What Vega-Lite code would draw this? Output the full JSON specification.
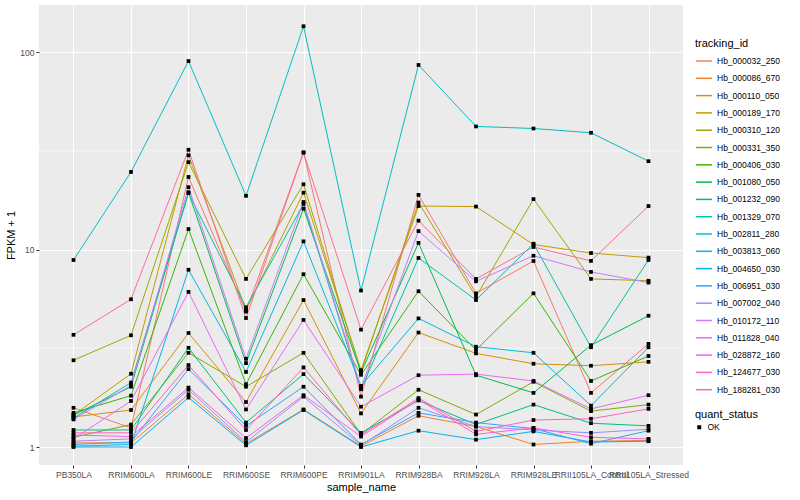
{
  "$schema": "https://vega.github.io/schema/vega-lite/v6.json",
  "width": 644,
  "height": 460,
  "padding": {"left": 5, "top": 5, "right": 5, "bottom": 5},
  "background": "white",
  "datasets": {
    "minor": [{"minor_break": 3.1623}, {"minor_break": 31.623}],
    "expr": [
      {"tracking_id":"Hb_000032_250","sample_name":"PB350LA","fpkm_1":1.58,"quant_status":"OK"},
      {"tracking_id":"Hb_000032_250","sample_name":"RRIM600LA","fpkm_1":1.25,"quant_status":"OK"},
      {"tracking_id":"Hb_000032_250","sample_name":"RRIM600LE","fpkm_1":23.3,"quant_status":"OK"},
      {"tracking_id":"Hb_000032_250","sample_name":"RRIM600SE","fpkm_1":4.85,"quant_status":"OK"},
      {"tracking_id":"Hb_000032_250","sample_name":"RRIM600PE","fpkm_1":31,"quant_status":"OK"},
      {"tracking_id":"Hb_000032_250","sample_name":"RRIM901LA","fpkm_1":1.8,"quant_status":"OK"},
      {"tracking_id":"Hb_000032_250","sample_name":"RRIM928BA","fpkm_1":18.9,"quant_status":"OK"},
      {"tracking_id":"Hb_000032_250","sample_name":"RRIM928LA","fpkm_1":6.0,"quant_status":"OK"},
      {"tracking_id":"Hb_000032_250","sample_name":"RRIM928LE","fpkm_1":8.75,"quant_status":"OK"},
      {"tracking_id":"Hb_000032_250","sample_name":"RRII105LA_Control","fpkm_1":1.88,"quant_status":"OK"},
      {"tracking_id":"Hb_000032_250","sample_name":"RRII105LA_Stressed","fpkm_1":3.33,"quant_status":"OK"},

      {"tracking_id":"Hb_000086_670","sample_name":"PB350LA","fpkm_1":1.05,"quant_status":"OK"},
      {"tracking_id":"Hb_000086_670","sample_name":"RRIM600LA","fpkm_1":1.05,"quant_status":"OK"},
      {"tracking_id":"Hb_000086_670","sample_name":"RRIM600LE","fpkm_1":1.85,"quant_status":"OK"},
      {"tracking_id":"Hb_000086_670","sample_name":"RRIM600SE","fpkm_1":1.04,"quant_status":"OK"},
      {"tracking_id":"Hb_000086_670","sample_name":"RRIM600PE","fpkm_1":1.55,"quant_status":"OK"},
      {"tracking_id":"Hb_000086_670","sample_name":"RRIM901LA","fpkm_1":1.01,"quant_status":"OK"},
      {"tracking_id":"Hb_000086_670","sample_name":"RRIM928BA","fpkm_1":1.44,"quant_status":"OK"},
      {"tracking_id":"Hb_000086_670","sample_name":"RRIM928LA","fpkm_1":1.27,"quant_status":"OK"},
      {"tracking_id":"Hb_000086_670","sample_name":"RRIM928LE","fpkm_1":1.03,"quant_status":"OK"},
      {"tracking_id":"Hb_000086_670","sample_name":"RRII105LA_Control","fpkm_1":1.07,"quant_status":"OK"},
      {"tracking_id":"Hb_000086_670","sample_name":"RRII105LA_Stressed","fpkm_1":1.08,"quant_status":"OK"},

      {"tracking_id":"Hb_000110_050","sample_name":"PB350LA","fpkm_1":1.42,"quant_status":"OK"},
      {"tracking_id":"Hb_000110_050","sample_name":"RRIM600LA","fpkm_1":1.54,"quant_status":"OK"},
      {"tracking_id":"Hb_000110_050","sample_name":"RRIM600LE","fpkm_1":3.78,"quant_status":"OK"},
      {"tracking_id":"Hb_000110_050","sample_name":"RRIM600SE","fpkm_1":1.69,"quant_status":"OK"},
      {"tracking_id":"Hb_000110_050","sample_name":"RRIM600PE","fpkm_1":5.55,"quant_status":"OK"},
      {"tracking_id":"Hb_000110_050","sample_name":"RRIM901LA","fpkm_1":1.48,"quant_status":"OK"},
      {"tracking_id":"Hb_000110_050","sample_name":"RRIM928BA","fpkm_1":3.8,"quant_status":"OK"},
      {"tracking_id":"Hb_000110_050","sample_name":"RRIM928LA","fpkm_1":2.98,"quant_status":"OK"},
      {"tracking_id":"Hb_000110_050","sample_name":"RRIM928LE","fpkm_1":2.64,"quant_status":"OK"},
      {"tracking_id":"Hb_000110_050","sample_name":"RRII105LA_Control","fpkm_1":2.58,"quant_status":"OK"},
      {"tracking_id":"Hb_000110_050","sample_name":"RRII105LA_Stressed","fpkm_1":2.7,"quant_status":"OK"},

      {"tracking_id":"Hb_000189_170","sample_name":"PB350LA","fpkm_1":1.45,"quant_status":"OK"},
      {"tracking_id":"Hb_000189_170","sample_name":"RRIM600LA","fpkm_1":2.35,"quant_status":"OK"},
      {"tracking_id":"Hb_000189_170","sample_name":"RRIM600LE","fpkm_1":30,"quant_status":"OK"},
      {"tracking_id":"Hb_000189_170","sample_name":"RRIM600SE","fpkm_1":4.95,"quant_status":"OK"},
      {"tracking_id":"Hb_000189_170","sample_name":"RRIM600PE","fpkm_1":19.4,"quant_status":"OK"},
      {"tracking_id":"Hb_000189_170","sample_name":"RRIM901LA","fpkm_1":2.45,"quant_status":"OK"},
      {"tracking_id":"Hb_000189_170","sample_name":"RRIM928BA","fpkm_1":16.6,"quant_status":"OK"},
      {"tracking_id":"Hb_000189_170","sample_name":"RRIM928LA","fpkm_1":16.5,"quant_status":"OK"},
      {"tracking_id":"Hb_000189_170","sample_name":"RRIM928LE","fpkm_1":10.6,"quant_status":"OK"},
      {"tracking_id":"Hb_000189_170","sample_name":"RRII105LA_Control","fpkm_1":9.6,"quant_status":"OK"},
      {"tracking_id":"Hb_000189_170","sample_name":"RRII105LA_Stressed","fpkm_1":9.1,"quant_status":"OK"},

      {"tracking_id":"Hb_000310_120","sample_name":"PB350LA","fpkm_1":2.75,"quant_status":"OK"},
      {"tracking_id":"Hb_000310_120","sample_name":"RRIM600LA","fpkm_1":3.68,"quant_status":"OK"},
      {"tracking_id":"Hb_000310_120","sample_name":"RRIM600LE","fpkm_1":27.7,"quant_status":"OK"},
      {"tracking_id":"Hb_000310_120","sample_name":"RRIM600SE","fpkm_1":7.1,"quant_status":"OK"},
      {"tracking_id":"Hb_000310_120","sample_name":"RRIM600PE","fpkm_1":21.4,"quant_status":"OK"},
      {"tracking_id":"Hb_000310_120","sample_name":"RRIM901LA","fpkm_1":2.4,"quant_status":"OK"},
      {"tracking_id":"Hb_000310_120","sample_name":"RRIM928BA","fpkm_1":17.3,"quant_status":"OK"},
      {"tracking_id":"Hb_000310_120","sample_name":"RRIM928LA","fpkm_1":5.77,"quant_status":"OK"},
      {"tracking_id":"Hb_000310_120","sample_name":"RRIM928LE","fpkm_1":18,"quant_status":"OK"},
      {"tracking_id":"Hb_000310_120","sample_name":"RRII105LA_Control","fpkm_1":7.1,"quant_status":"OK"},
      {"tracking_id":"Hb_000310_120","sample_name":"RRII105LA_Stressed","fpkm_1":6.95,"quant_status":"OK"},

      {"tracking_id":"Hb_000331_350","sample_name":"PB350LA","fpkm_1":1.12,"quant_status":"OK"},
      {"tracking_id":"Hb_000331_350","sample_name":"RRIM600LA","fpkm_1":1.3,"quant_status":"OK"},
      {"tracking_id":"Hb_000331_350","sample_name":"RRIM600LE","fpkm_1":3.0,"quant_status":"OK"},
      {"tracking_id":"Hb_000331_350","sample_name":"RRIM600SE","fpkm_1":2.02,"quant_status":"OK"},
      {"tracking_id":"Hb_000331_350","sample_name":"RRIM600PE","fpkm_1":3.0,"quant_status":"OK"},
      {"tracking_id":"Hb_000331_350","sample_name":"RRIM901LA","fpkm_1":1.16,"quant_status":"OK"},
      {"tracking_id":"Hb_000331_350","sample_name":"RRIM928BA","fpkm_1":1.95,"quant_status":"OK"},
      {"tracking_id":"Hb_000331_350","sample_name":"RRIM928LA","fpkm_1":1.46,"quant_status":"OK"},
      {"tracking_id":"Hb_000331_350","sample_name":"RRIM928LE","fpkm_1":2.14,"quant_status":"OK"},
      {"tracking_id":"Hb_000331_350","sample_name":"RRII105LA_Control","fpkm_1":1.52,"quant_status":"OK"},
      {"tracking_id":"Hb_000331_350","sample_name":"RRII105LA_Stressed","fpkm_1":1.64,"quant_status":"OK"},

      {"tracking_id":"Hb_000406_030","sample_name":"PB350LA","fpkm_1":1.49,"quant_status":"OK"},
      {"tracking_id":"Hb_000406_030","sample_name":"RRIM600LA","fpkm_1":1.82,"quant_status":"OK"},
      {"tracking_id":"Hb_000406_030","sample_name":"RRIM600LE","fpkm_1":12.7,"quant_status":"OK"},
      {"tracking_id":"Hb_000406_030","sample_name":"RRIM600SE","fpkm_1":2.08,"quant_status":"OK"},
      {"tracking_id":"Hb_000406_030","sample_name":"RRIM600PE","fpkm_1":7.5,"quant_status":"OK"},
      {"tracking_id":"Hb_000406_030","sample_name":"RRIM901LA","fpkm_1":2.32,"quant_status":"OK"},
      {"tracking_id":"Hb_000406_030","sample_name":"RRIM928BA","fpkm_1":6.15,"quant_status":"OK"},
      {"tracking_id":"Hb_000406_030","sample_name":"RRIM928LA","fpkm_1":3.1,"quant_status":"OK"},
      {"tracking_id":"Hb_000406_030","sample_name":"RRIM928LE","fpkm_1":6.0,"quant_status":"OK"},
      {"tracking_id":"Hb_000406_030","sample_name":"RRII105LA_Control","fpkm_1":2.16,"quant_status":"OK"},
      {"tracking_id":"Hb_000406_030","sample_name":"RRII105LA_Stressed","fpkm_1":2.89,"quant_status":"OK"},

      {"tracking_id":"Hb_001080_050","sample_name":"PB350LA","fpkm_1":1.45,"quant_status":"OK"},
      {"tracking_id":"Hb_001080_050","sample_name":"RRIM600LA","fpkm_1":2.02,"quant_status":"OK"},
      {"tracking_id":"Hb_001080_050","sample_name":"RRIM600LE","fpkm_1":19.5,"quant_status":"OK"},
      {"tracking_id":"Hb_001080_050","sample_name":"RRIM600SE","fpkm_1":2.66,"quant_status":"OK"},
      {"tracking_id":"Hb_001080_050","sample_name":"RRIM600PE","fpkm_1":16.1,"quant_status":"OK"},
      {"tracking_id":"Hb_001080_050","sample_name":"RRIM901LA","fpkm_1":2.38,"quant_status":"OK"},
      {"tracking_id":"Hb_001080_050","sample_name":"RRIM928BA","fpkm_1":10.8,"quant_status":"OK"},
      {"tracking_id":"Hb_001080_050","sample_name":"RRIM928LA","fpkm_1":2.31,"quant_status":"OK"},
      {"tracking_id":"Hb_001080_050","sample_name":"RRIM928LE","fpkm_1":1.88,"quant_status":"OK"},
      {"tracking_id":"Hb_001080_050","sample_name":"RRII105LA_Control","fpkm_1":3.28,"quant_status":"OK"},
      {"tracking_id":"Hb_001080_050","sample_name":"RRII105LA_Stressed","fpkm_1":4.62,"quant_status":"OK"},

      {"tracking_id":"Hb_001232_090","sample_name":"PB350LA","fpkm_1":1.22,"quant_status":"OK"},
      {"tracking_id":"Hb_001232_090","sample_name":"RRIM600LA","fpkm_1":1.22,"quant_status":"OK"},
      {"tracking_id":"Hb_001232_090","sample_name":"RRIM600LE","fpkm_1":3.18,"quant_status":"OK"},
      {"tracking_id":"Hb_001232_090","sample_name":"RRIM600SE","fpkm_1":1.33,"quant_status":"OK"},
      {"tracking_id":"Hb_001232_090","sample_name":"RRIM600PE","fpkm_1":2.34,"quant_status":"OK"},
      {"tracking_id":"Hb_001232_090","sample_name":"RRIM901LA","fpkm_1":1.18,"quant_status":"OK"},
      {"tracking_id":"Hb_001232_090","sample_name":"RRIM928BA","fpkm_1":1.72,"quant_status":"OK"},
      {"tracking_id":"Hb_001232_090","sample_name":"RRIM928LA","fpkm_1":1.3,"quant_status":"OK"},
      {"tracking_id":"Hb_001232_090","sample_name":"RRIM928LE","fpkm_1":1.64,"quant_status":"OK"},
      {"tracking_id":"Hb_001232_090","sample_name":"RRII105LA_Control","fpkm_1":1.32,"quant_status":"OK"},
      {"tracking_id":"Hb_001232_090","sample_name":"RRII105LA_Stressed","fpkm_1":1.28,"quant_status":"OK"},

      {"tracking_id":"Hb_001329_070","sample_name":"PB350LA","fpkm_1":1.4,"quant_status":"OK"},
      {"tracking_id":"Hb_001329_070","sample_name":"RRIM600LA","fpkm_1":2.12,"quant_status":"OK"},
      {"tracking_id":"Hb_001329_070","sample_name":"RRIM600LE","fpkm_1":19.3,"quant_status":"OK"},
      {"tracking_id":"Hb_001329_070","sample_name":"RRIM600SE","fpkm_1":5.1,"quant_status":"OK"},
      {"tracking_id":"Hb_001329_070","sample_name":"RRIM600PE","fpkm_1":17.0,"quant_status":"OK"},
      {"tracking_id":"Hb_001329_070","sample_name":"RRIM901LA","fpkm_1":1.96,"quant_status":"OK"},
      {"tracking_id":"Hb_001329_070","sample_name":"RRIM928BA","fpkm_1":9.06,"quant_status":"OK"},
      {"tracking_id":"Hb_001329_070","sample_name":"RRIM928LA","fpkm_1":5.55,"quant_status":"OK"},
      {"tracking_id":"Hb_001329_070","sample_name":"RRIM928LE","fpkm_1":10.7,"quant_status":"OK"},
      {"tracking_id":"Hb_001329_070","sample_name":"RRII105LA_Control","fpkm_1":3.2,"quant_status":"OK"},
      {"tracking_id":"Hb_001329_070","sample_name":"RRII105LA_Stressed","fpkm_1":8.85,"quant_status":"OK"},

      {"tracking_id":"Hb_002811_280","sample_name":"PB350LA","fpkm_1":8.85,"quant_status":"OK"},
      {"tracking_id":"Hb_002811_280","sample_name":"RRIM600LA","fpkm_1":24.7,"quant_status":"OK"},
      {"tracking_id":"Hb_002811_280","sample_name":"RRIM600LE","fpkm_1":90,"quant_status":"OK"},
      {"tracking_id":"Hb_002811_280","sample_name":"RRIM600SE","fpkm_1":18.7,"quant_status":"OK"},
      {"tracking_id":"Hb_002811_280","sample_name":"RRIM600PE","fpkm_1":135,"quant_status":"OK"},
      {"tracking_id":"Hb_002811_280","sample_name":"RRIM901LA","fpkm_1":6.2,"quant_status":"OK"},
      {"tracking_id":"Hb_002811_280","sample_name":"RRIM928BA","fpkm_1":86,"quant_status":"OK"},
      {"tracking_id":"Hb_002811_280","sample_name":"RRIM928LA","fpkm_1":42,"quant_status":"OK"},
      {"tracking_id":"Hb_002811_280","sample_name":"RRIM928LE","fpkm_1":41,"quant_status":"OK"},
      {"tracking_id":"Hb_002811_280","sample_name":"RRII105LA_Control","fpkm_1":39,"quant_status":"OK"},
      {"tracking_id":"Hb_002811_280","sample_name":"RRII105LA_Stressed","fpkm_1":28,"quant_status":"OK"},

      {"tracking_id":"Hb_003813_060","sample_name":"PB350LA","fpkm_1":1.01,"quant_status":"OK"},
      {"tracking_id":"Hb_003813_060","sample_name":"RRIM600LA","fpkm_1":1.03,"quant_status":"OK"},
      {"tracking_id":"Hb_003813_060","sample_name":"RRIM600LE","fpkm_1":7.9,"quant_status":"OK"},
      {"tracking_id":"Hb_003813_060","sample_name":"RRIM600SE","fpkm_1":2.4,"quant_status":"OK"},
      {"tracking_id":"Hb_003813_060","sample_name":"RRIM600PE","fpkm_1":11.0,"quant_status":"OK"},
      {"tracking_id":"Hb_003813_060","sample_name":"RRIM901LA","fpkm_1":2.04,"quant_status":"OK"},
      {"tracking_id":"Hb_003813_060","sample_name":"RRIM928BA","fpkm_1":4.48,"quant_status":"OK"},
      {"tracking_id":"Hb_003813_060","sample_name":"RRIM928LA","fpkm_1":3.22,"quant_status":"OK"},
      {"tracking_id":"Hb_003813_060","sample_name":"RRIM928LE","fpkm_1":3.0,"quant_status":"OK"},
      {"tracking_id":"Hb_003813_060","sample_name":"RRII105LA_Control","fpkm_1":1.62,"quant_status":"OK"},
      {"tracking_id":"Hb_003813_060","sample_name":"RRII105LA_Stressed","fpkm_1":3.2,"quant_status":"OK"},

      {"tracking_id":"Hb_004650_030","sample_name":"PB350LA","fpkm_1":1.0,"quant_status":"OK"},
      {"tracking_id":"Hb_004650_030","sample_name":"RRIM600LA","fpkm_1":1.0,"quant_status":"OK"},
      {"tracking_id":"Hb_004650_030","sample_name":"RRIM600LE","fpkm_1":1.78,"quant_status":"OK"},
      {"tracking_id":"Hb_004650_030","sample_name":"RRIM600SE","fpkm_1":1.02,"quant_status":"OK"},
      {"tracking_id":"Hb_004650_030","sample_name":"RRIM600PE","fpkm_1":1.54,"quant_status":"OK"},
      {"tracking_id":"Hb_004650_030","sample_name":"RRIM901LA","fpkm_1":1.0,"quant_status":"OK"},
      {"tracking_id":"Hb_004650_030","sample_name":"RRIM928BA","fpkm_1":1.21,"quant_status":"OK"},
      {"tracking_id":"Hb_004650_030","sample_name":"RRIM928LA","fpkm_1":1.09,"quant_status":"OK"},
      {"tracking_id":"Hb_004650_030","sample_name":"RRIM928LE","fpkm_1":1.2,"quant_status":"OK"},
      {"tracking_id":"Hb_004650_030","sample_name":"RRII105LA_Control","fpkm_1":1.06,"quant_status":"OK"},
      {"tracking_id":"Hb_004650_030","sample_name":"RRII105LA_Stressed","fpkm_1":1.07,"quant_status":"OK"},

      {"tracking_id":"Hb_006951_030","sample_name":"PB350LA","fpkm_1":1.03,"quant_status":"OK"},
      {"tracking_id":"Hb_006951_030","sample_name":"RRIM600LA","fpkm_1":1.06,"quant_status":"OK"},
      {"tracking_id":"Hb_006951_030","sample_name":"RRIM600LE","fpkm_1":2.48,"quant_status":"OK"},
      {"tracking_id":"Hb_006951_030","sample_name":"RRIM600SE","fpkm_1":1.28,"quant_status":"OK"},
      {"tracking_id":"Hb_006951_030","sample_name":"RRIM600PE","fpkm_1":2.02,"quant_status":"OK"},
      {"tracking_id":"Hb_006951_030","sample_name":"RRIM901LA","fpkm_1":1.03,"quant_status":"OK"},
      {"tracking_id":"Hb_006951_030","sample_name":"RRIM928BA","fpkm_1":1.49,"quant_status":"OK"},
      {"tracking_id":"Hb_006951_030","sample_name":"RRIM928LA","fpkm_1":1.33,"quant_status":"OK"},
      {"tracking_id":"Hb_006951_030","sample_name":"RRIM928LE","fpkm_1":1.24,"quant_status":"OK"},
      {"tracking_id":"Hb_006951_030","sample_name":"RRII105LA_Control","fpkm_1":1.04,"quant_status":"OK"},
      {"tracking_id":"Hb_006951_030","sample_name":"RRII105LA_Stressed","fpkm_1":1.21,"quant_status":"OK"},

      {"tracking_id":"Hb_007002_040","sample_name":"PB350LA","fpkm_1":1.07,"quant_status":"OK"},
      {"tracking_id":"Hb_007002_040","sample_name":"RRIM600LA","fpkm_1":1.1,"quant_status":"OK"},
      {"tracking_id":"Hb_007002_040","sample_name":"RRIM600LE","fpkm_1":1.95,"quant_status":"OK"},
      {"tracking_id":"Hb_007002_040","sample_name":"RRIM600SE","fpkm_1":1.06,"quant_status":"OK"},
      {"tracking_id":"Hb_007002_040","sample_name":"RRIM600PE","fpkm_1":1.8,"quant_status":"OK"},
      {"tracking_id":"Hb_007002_040","sample_name":"RRIM901LA","fpkm_1":1.02,"quant_status":"OK"},
      {"tracking_id":"Hb_007002_040","sample_name":"RRIM928BA","fpkm_1":1.58,"quant_status":"OK"},
      {"tracking_id":"Hb_007002_040","sample_name":"RRIM928LA","fpkm_1":1.27,"quant_status":"OK"},
      {"tracking_id":"Hb_007002_040","sample_name":"RRIM928LE","fpkm_1":1.22,"quant_status":"OK"},
      {"tracking_id":"Hb_007002_040","sample_name":"RRII105LA_Control","fpkm_1":1.18,"quant_status":"OK"},
      {"tracking_id":"Hb_007002_040","sample_name":"RRII105LA_Stressed","fpkm_1":1.23,"quant_status":"OK"},

      {"tracking_id":"Hb_010172_110","sample_name":"PB350LA","fpkm_1":1.38,"quant_status":"OK"},
      {"tracking_id":"Hb_010172_110","sample_name":"RRIM600LA","fpkm_1":2.05,"quant_status":"OK"},
      {"tracking_id":"Hb_010172_110","sample_name":"RRIM600LE","fpkm_1":20.7,"quant_status":"OK"},
      {"tracking_id":"Hb_010172_110","sample_name":"RRIM600SE","fpkm_1":2.8,"quant_status":"OK"},
      {"tracking_id":"Hb_010172_110","sample_name":"RRIM600PE","fpkm_1":17.4,"quant_status":"OK"},
      {"tracking_id":"Hb_010172_110","sample_name":"RRIM901LA","fpkm_1":2.0,"quant_status":"OK"},
      {"tracking_id":"Hb_010172_110","sample_name":"RRIM928BA","fpkm_1":12.4,"quant_status":"OK"},
      {"tracking_id":"Hb_010172_110","sample_name":"RRIM928LA","fpkm_1":6.9,"quant_status":"OK"},
      {"tracking_id":"Hb_010172_110","sample_name":"RRIM928LE","fpkm_1":9.3,"quant_status":"OK"},
      {"tracking_id":"Hb_010172_110","sample_name":"RRII105LA_Control","fpkm_1":7.7,"quant_status":"OK"},
      {"tracking_id":"Hb_010172_110","sample_name":"RRII105LA_Stressed","fpkm_1":6.8,"quant_status":"OK"},

      {"tracking_id":"Hb_011828_040","sample_name":"PB350LA","fpkm_1":1.1,"quant_status":"OK"},
      {"tracking_id":"Hb_011828_040","sample_name":"RRIM600LA","fpkm_1":1.71,"quant_status":"OK"},
      {"tracking_id":"Hb_011828_040","sample_name":"RRIM600LE","fpkm_1":6.1,"quant_status":"OK"},
      {"tracking_id":"Hb_011828_040","sample_name":"RRIM600SE","fpkm_1":1.55,"quant_status":"OK"},
      {"tracking_id":"Hb_011828_040","sample_name":"RRIM600PE","fpkm_1":4.4,"quant_status":"OK"},
      {"tracking_id":"Hb_011828_040","sample_name":"RRIM901LA","fpkm_1":1.6,"quant_status":"OK"},
      {"tracking_id":"Hb_011828_040","sample_name":"RRIM928BA","fpkm_1":2.31,"quant_status":"OK"},
      {"tracking_id":"Hb_011828_040","sample_name":"RRIM928LA","fpkm_1":2.34,"quant_status":"OK"},
      {"tracking_id":"Hb_011828_040","sample_name":"RRIM928LE","fpkm_1":2.16,"quant_status":"OK"},
      {"tracking_id":"Hb_011828_040","sample_name":"RRII105LA_Control","fpkm_1":1.56,"quant_status":"OK"},
      {"tracking_id":"Hb_011828_040","sample_name":"RRII105LA_Stressed","fpkm_1":1.83,"quant_status":"OK"},

      {"tracking_id":"Hb_028872_160","sample_name":"PB350LA","fpkm_1":1.15,"quant_status":"OK"},
      {"tracking_id":"Hb_028872_160","sample_name":"RRIM600LA","fpkm_1":1.13,"quant_status":"OK"},
      {"tracking_id":"Hb_028872_160","sample_name":"RRIM600LE","fpkm_1":2.0,"quant_status":"OK"},
      {"tracking_id":"Hb_028872_160","sample_name":"RRIM600SE","fpkm_1":1.11,"quant_status":"OK"},
      {"tracking_id":"Hb_028872_160","sample_name":"RRIM600PE","fpkm_1":1.83,"quant_status":"OK"},
      {"tracking_id":"Hb_028872_160","sample_name":"RRIM901LA","fpkm_1":1.13,"quant_status":"OK"},
      {"tracking_id":"Hb_028872_160","sample_name":"RRIM928BA","fpkm_1":1.74,"quant_status":"OK"},
      {"tracking_id":"Hb_028872_160","sample_name":"RRIM928LA","fpkm_1":1.16,"quant_status":"OK"},
      {"tracking_id":"Hb_028872_160","sample_name":"RRIM928LE","fpkm_1":1.25,"quant_status":"OK"},
      {"tracking_id":"Hb_028872_160","sample_name":"RRII105LA_Control","fpkm_1":1.12,"quant_status":"OK"},
      {"tracking_id":"Hb_028872_160","sample_name":"RRII105LA_Stressed","fpkm_1":1.1,"quant_status":"OK"},

      {"tracking_id":"Hb_124677_030","sample_name":"PB350LA","fpkm_1":1.18,"quant_status":"OK"},
      {"tracking_id":"Hb_124677_030","sample_name":"RRIM600LA","fpkm_1":1.18,"quant_status":"OK"},
      {"tracking_id":"Hb_124677_030","sample_name":"RRIM600LE","fpkm_1":2.6,"quant_status":"OK"},
      {"tracking_id":"Hb_124677_030","sample_name":"RRIM600SE","fpkm_1":1.22,"quant_status":"OK"},
      {"tracking_id":"Hb_124677_030","sample_name":"RRIM600PE","fpkm_1":2.53,"quant_status":"OK"},
      {"tracking_id":"Hb_124677_030","sample_name":"RRIM901LA","fpkm_1":1.15,"quant_status":"OK"},
      {"tracking_id":"Hb_124677_030","sample_name":"RRIM928BA","fpkm_1":1.77,"quant_status":"OK"},
      {"tracking_id":"Hb_124677_030","sample_name":"RRIM928LA","fpkm_1":1.2,"quant_status":"OK"},
      {"tracking_id":"Hb_124677_030","sample_name":"RRIM928LE","fpkm_1":1.37,"quant_status":"OK"},
      {"tracking_id":"Hb_124677_030","sample_name":"RRII105LA_Control","fpkm_1":1.39,"quant_status":"OK"},
      {"tracking_id":"Hb_124677_030","sample_name":"RRII105LA_Stressed","fpkm_1":1.56,"quant_status":"OK"},

      {"tracking_id":"Hb_188281_030","sample_name":"PB350LA","fpkm_1":3.7,"quant_status":"OK"},
      {"tracking_id":"Hb_188281_030","sample_name":"RRIM600LA","fpkm_1":5.6,"quant_status":"OK"},
      {"tracking_id":"Hb_188281_030","sample_name":"RRIM600LE","fpkm_1":32,"quant_status":"OK"},
      {"tracking_id":"Hb_188281_030","sample_name":"RRIM600SE","fpkm_1":4.5,"quant_status":"OK"},
      {"tracking_id":"Hb_188281_030","sample_name":"RRIM600PE","fpkm_1":31,"quant_status":"OK"},
      {"tracking_id":"Hb_188281_030","sample_name":"RRIM901LA","fpkm_1":3.93,"quant_status":"OK"},
      {"tracking_id":"Hb_188281_030","sample_name":"RRIM928BA","fpkm_1":14.0,"quant_status":"OK"},
      {"tracking_id":"Hb_188281_030","sample_name":"RRIM928LA","fpkm_1":7.1,"quant_status":"OK"},
      {"tracking_id":"Hb_188281_030","sample_name":"RRIM928LE","fpkm_1":10.3,"quant_status":"OK"},
      {"tracking_id":"Hb_188281_030","sample_name":"RRII105LA_Control","fpkm_1":8.76,"quant_status":"OK"},
      {"tracking_id":"Hb_188281_030","sample_name":"RRII105LA_Stressed","fpkm_1":16.6,"quant_status":"OK"}
    ]
  },
  "layer": [
    {
      "data": {"name": "minor"},
      "mark": {"type": "rule", "color": "white", "strokeWidth": 0.55},
      "encoding": {
        "y": {"field": "minor_break", "type": "quantitative", "title": "FPKM + 1",
              "scale": {"type": "log", "domain": [0.811, 173], "nice": false, "zero": false}}
      }
    },
    {
      "data": {"name": "expr"},
      "mark": {"type": "line", "strokeWidth": 1},
      "encoding": {
        "x": {"field": "sample_name", "type": "nominal", "title": "sample_name",
              "sort": ["PB350LA","RRIM600LA","RRIM600LE","RRIM600SE","RRIM600PE","RRIM901LA","RRIM928BA","RRIM928LA","RRIM928LE","RRII105LA_Control","RRII105LA_Stressed"],
              "scale": {"type": "point", "padding": 0.6},
              "axis": {"labelAngle": 0, "labelOverlap": false}},
        "y": {"field": "fpkm_1", "type": "quantitative", "title": "FPKM + 1",
              "scale": {"type": "log", "domain": [0.811, 173], "nice": false, "zero": false},
              "axis": {"values": [1, 10, 100], "format": "~g"}},
        "color": {"field": "tracking_id", "type": "nominal", "title": "tracking_id",
                  "scale": {"range": ["#F8766D","#EA8331","#D89000","#C09B00","#A3A500","#7CAE00","#39B600","#00BB4E","#00BF7D","#00C1A3","#00BFC4","#00BAE0","#00B0F6","#35A2FF","#9590FF","#C77CFF","#E76BF3","#FA62DB","#FF62BC","#FF6C91"]},
                  "legend": {"symbolType": "stroke", "symbolSize": 250, "symbolStrokeWidth": 1.5, "rowPadding": 3.3}},
        "detail": {"field": "tracking_id"}
      }
    },
    {
      "data": {"name": "expr"},
      "mark": {"type": "point", "filled": true, "color": "black", "size": 14, "opacity": 1},
      "encoding": {
        "x": {"field": "sample_name", "type": "nominal",
              "sort": ["PB350LA","RRIM600LA","RRIM600LE","RRIM600SE","RRIM600PE","RRIM901LA","RRIM928BA","RRIM928LA","RRIM928LE","RRII105LA_Control","RRII105LA_Stressed"]},
        "y": {"field": "fpkm_1", "type": "quantitative"},
        "shape": {"field": "quant_status", "type": "nominal", "title": "quant_status",
                  "scale": {"range": ["square"]},
                  "legend": {"symbolFillColor": "black", "symbolStrokeColor": "black", "symbolSize": 16}}
      }
    }
  ],
  "config": {
    "font": "Liberation Sans",
    "view": {"fill": "#EBEBEB", "stroke": null},
    "axis": {
      "domain": false,
      "grid": true,
      "gridColor": "white",
      "gridWidth": 1.1,
      "tickColor": "#333333",
      "tickSize": 3,
      "labelColor": "#4D4D4D",
      "labelFontSize": 8.5,
      "labelPadding": 2,
      "titleFontSize": 11,
      "titleFontWeight": "normal",
      "titleColor": "black",
      "titlePadding": 3
    },
    "legend": {
      "titleFontSize": 11,
      "titleFontWeight": "normal",
      "titleColor": "black",
      "labelFontSize": 8.5,
      "labelColor": "black",
      "offset": 12,
      "titlePadding": 3,
      "layout": {"right": {"anchor": "middle", "direction": "vertical", "margin": 14}}
    }
  }
}
